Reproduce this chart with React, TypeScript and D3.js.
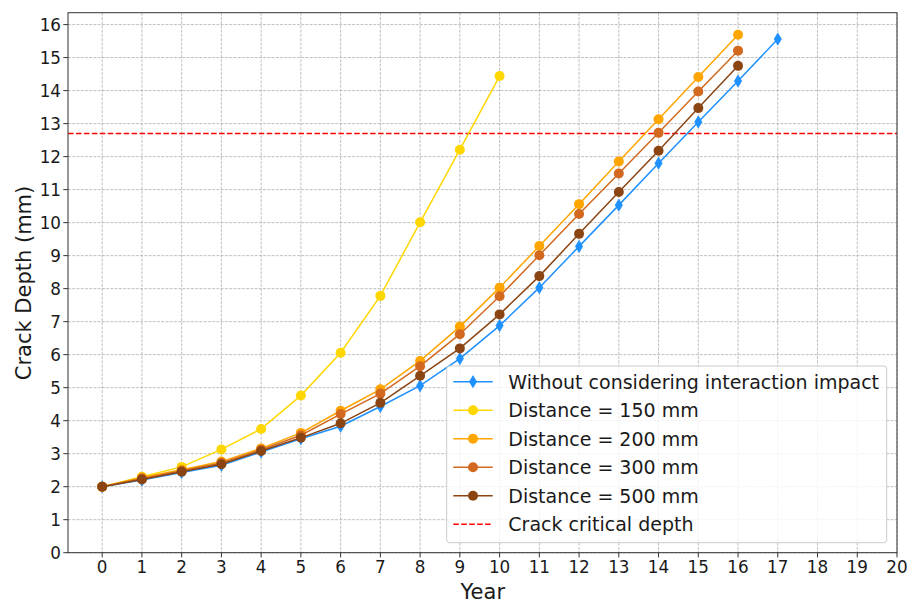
import React from "react";
import * as d3 from "d3";

// Years of inspection
const years = [0, 1, 2, 3, 4, 5, 6, 7, 8, 9, 10, 11, 12, 13, 14, 15, 16, 17];

// Crack depth (mm) per year for each scenario
const withoutInteraction = [2.0, 2.2, 2.43, 2.65, 3.05, 3.45, 3.83, 4.43, 5.06, 5.88, 6.88, 8.03, 9.28, 10.53, 11.8, 13.05, 14.29, 15.56];
const dist150 = [2.0, 2.3, 2.6, 3.13, 3.75, 4.76, 6.06, 7.78, 10.01, 12.21, 14.44];
const dist200 = [2.0, 2.28, 2.51, 2.76, 3.16, 3.63, 4.3, 4.95, 5.81, 6.85, 8.03, 9.29, 10.56, 11.85, 13.13, 14.41, 15.69];
const dist300 = [2.0, 2.25, 2.48, 2.72, 3.12, 3.56, 4.2, 4.82, 5.65, 6.62, 7.77, 9.01, 10.26, 11.49, 12.72, 13.97, 15.21];
const dist500 = [2.0, 2.22, 2.45, 2.68, 3.08, 3.48, 3.92, 4.54, 5.36, 6.19, 7.22, 8.38, 9.66, 10.93, 12.18, 13.47, 14.75];

const criticalDepth = 12.7;

const xTicks = d3.range(0, 21);
const yTicks = d3.range(0, 17);

const seriesLabels = [
  "Without considering interaction impact",
  "Distance = 150 mm",
  "Distance = 200 mm",
  "Distance = 300 mm",
  "Distance = 500 mm",
];
const seriesColors = ["#1E90FF", "#FFD700", "#FFA500", "#D2691E", "#8B4513"];
const seriesValues = [withoutInteraction, dist150, dist200, dist300, dist500];
const criticalLabel = "Crack critical depth";

const W = 913;
const H = 603;
const left = 68;
const right = 897;
const top = 12.7;
const bottom = 552.7;
const font = "'DejaVu Sans', sans-serif";
const markerR = 5;

function Diamond({ cx, cy, color }: { cx: number; cy: number; color: string }) {
  const w = 3.6;
  const h = 6;
  return (
    <path
      d={`M${cx},${cy - h}L${cx + w},${cy}L${cx},${cy + h}L${cx - w},${cy}Z`}
      fill={color}
      stroke={color}
      strokeWidth={0.8}
    />
  );
}

export default function App() {
  const x = d3.scaleLinear().domain([-0.86, 20]).range([left, right]);
  const y = d3.scaleLinear().domain([0, 16.36]).range([bottom, top]);

  const line = d3
    .line<number>()
    .x((_, i) => x(years[i]))
    .y((d) => y(d));

  const legX = 446.7;
  const legY = 366;
  const legW = 440;
  const legH = 176.7;
  const rowY0 = 381.7;
  const rowStep = 28.5;

  return (
    <svg width={W} height={H} style={{ position: "absolute", left: 0, top: 0 }} fontFamily={font}>
      <rect x={0} y={0} width={W} height={H} fill="#fff" />
      {/* grid */}
      <g stroke="#b0b0b0" strokeWidth={0.8} strokeDasharray="2.96,1.28">
        {xTicks.map((t) => (
          <line key={"gx" + t} x1={x(t)} x2={x(t)} y1={top} y2={bottom} />
        ))}
        {yTicks.map((t) => (
          <line key={"gy" + t} x1={left} x2={right} y1={y(t)} y2={y(t)} />
        ))}
      </g>

      {/* critical depth */}
      <line
        x1={left}
        x2={right}
        y1={y(criticalDepth)}
        y2={y(criticalDepth)}
        stroke="#ff0000"
        strokeWidth={1.5}
        strokeDasharray="5.55,2.4"
      />

      {/* series */}
      {seriesValues.map((vals, si) => {
        const c = seriesColors[si];
        return (
          <g key={"s" + si}>
            <path d={line(vals) || ""} fill="none" stroke={c} strokeWidth={1.5} />
            {vals.map((v, i) =>
              si === 0 ? (
                <Diamond key={i} cx={x(years[i])} cy={y(v)} color={c} />
              ) : (
                <circle key={i} cx={x(years[i])} cy={y(v)} r={markerR} fill={c} />
              )
            )}
          </g>
        );
      })}

      {/* spines */}
      <rect x={left} y={top} width={right - left} height={bottom - top} fill="none" stroke="#333" strokeWidth={1} />

      {/* x ticks */}
      {xTicks.map((t) => (
        <g key={"xt" + t}>
          <line x1={x(t)} x2={x(t)} y1={bottom} y2={bottom + 4.7} stroke="#333" strokeWidth={1} />
          <text x={x(t)} y={bottom + 20.5} textAnchor="middle" fontSize={16.8} fill="#1a1a1a">
            {t}
          </text>
        </g>
      ))}
      {/* y ticks */}
      {yTicks.map((t) => (
        <g key={"yt" + t}>
          <line x1={left - 4.7} x2={left} y1={y(t)} y2={y(t)} stroke="#333" strokeWidth={1} />
          <text x={left - 7} y={y(t)} dy="0.36em" textAnchor="end" fontSize={16.8} fill="#1a1a1a">
            {t}
          </text>
        </g>
      ))}

      {/* axis labels */}
      <text x={482.8} y={599} textAnchor="middle" fontSize={21} fill="#1a1a1a">
        Year
      </text>
      <text transform={`translate(30.5, 283) rotate(-90)`} textAnchor="middle" fontSize={21} fill="#1a1a1a">
        Crack Depth (mm)
      </text>

      {/* legend */}
      <rect
        x={legX}
        y={legY}
        width={legW}
        height={legH}
        rx={3}
        fill="#fff"
        fillOpacity={0.8}
        stroke="#cccccc"
        strokeWidth={1}
      />
      {seriesLabels.map((lab, i) => {
        const cy = rowY0 + i * rowStep;
        const c = seriesColors[i];
        return (
          <g key={"lg" + i}>
            <line x1={453.3} x2={492.7} y1={cy} y2={cy} stroke={c} strokeWidth={1.5} />
            {i === 0 ? <Diamond cx={473} cy={cy} color={c} /> : <circle cx={473} cy={cy} r={markerR} fill={c} />}
            <text x={508.3} y={cy} dy="0.36em" fontSize={19} fill="#1a1a1a">
              {lab}
            </text>
          </g>
        );
      })}
      <line
        x1={453.3}
        x2={492.7}
        y1={rowY0 + 5 * rowStep}
        y2={rowY0 + 5 * rowStep}
        stroke="#ff0000"
        strokeWidth={1.5}
        strokeDasharray="5.55,2.4"
      />
      <text x={508.3} y={rowY0 + 5 * rowStep} dy="0.36em" fontSize={19} fill="#1a1a1a">
        {criticalLabel}
      </text>
    </svg>
  );
}
